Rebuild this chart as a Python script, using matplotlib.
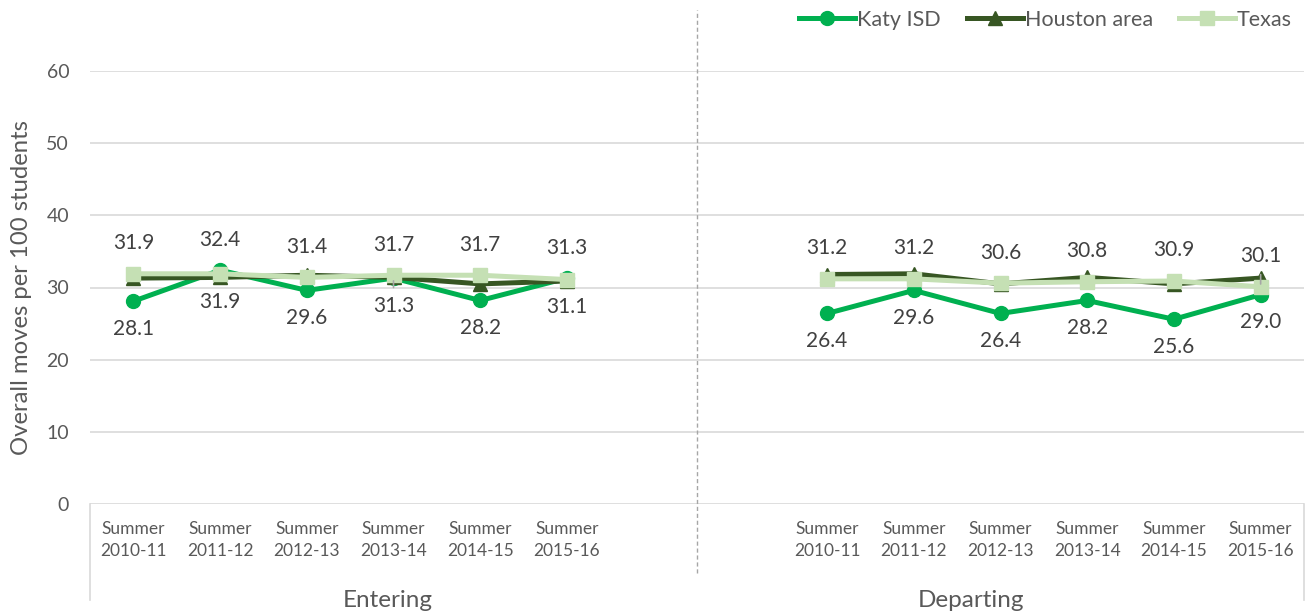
import matplotlib
matplotlib.use("Agg")
import matplotlib.pyplot as plt
from matplotlib.lines import Line2D

plt.rcParams['font.family'] = ['Lato', 'DejaVu Sans']

# data
periods = ["Summer\n2010-11", "Summer\n2011-12", "Summer\n2012-13",
           "Summer\n2013-14", "Summer\n2014-15", "Summer\n2015-16"]
groups = ["Entering", "Departing"]

katy_entering = [28.1, 32.4, 29.6, 31.3, 28.2, 31.3]
houston_entering = [31.3, 31.4, 31.7, 31.4, 30.5, 30.9]
texas_entering = [31.9, 31.9, 31.4, 31.7, 31.7, 31.1]

katy_departing = [26.4, 29.6, 26.4, 28.2, 25.6, 29.0]
houston_departing = [31.8, 31.9, 30.5, 31.4, 30.5, 31.3]
texas_departing = [31.2, 31.2, 30.6, 30.8, 30.9, 30.1]

series = [
    ("Katy ISD", katy_entering, katy_departing, "#00b050", "o", 10),
    ("Houston area", houston_entering, houston_departing, "#375623", "^", 10),
    ("Texas", texas_entering, texas_departing, "#c5e0b4", "s", 10),
]

W, H = 1306, 616
fig = plt.figure(figsize=(W / 100, H / 100), dpi=100)
ax = fig.add_axes([90 / W, 1 - 504 / H, (1304 - 90) / W, (504 - 71) / H])

x_ent = list(range(0, 6))
x_dep = list(range(8, 14))

for name, ent, dep, color, marker, ms in series:
    for xs, ys in ((x_ent, ent), (x_dep, dep)):
        ax.plot(xs, ys, color=color, lw=3.6, marker=marker, ms=ms,
                solid_capstyle="round", solid_joinstyle="round", zorder=3)

# data labels: higher of Katy/Texas goes above, lower goes below
label_color = "#404040"
leader = {(0, 3, "lo"), (1, 5, "hi")}  # labels that have a small leader line
for gi, (xs, k_vals, t_vals) in enumerate(((x_ent, katy_entering, texas_entering),
                                           (x_dep, katy_departing, texas_departing))):
    for i, (x, k, t) in enumerate(zip(xs, k_vals, t_vals)):
        hi, lo = (k, t) if k > t else (t, k)
        for key, v, dy in (("hi", hi, 22), ("lo", lo, -20)):
            props = None
            if (gi, i, key) in leader:
                props = dict(arrowstyle="-", color="#a6a6a6", lw=1.2,
                             shrinkA=4, shrinkB=2)
            ax.annotate(f"{v:.1f}", (x, v), xytext=(0, dy), textcoords="offset points",
                        ha="center", va="center", fontsize=15, color=label_color,
                        arrowprops=props, zorder=4)

ax.set_xlim(-0.5, 13.5)
ax.set_ylim(0, 60)
ax.set_yticks(range(0, 61, 10))
ax.grid(axis="y", color="#d9d9d9", lw=1.2)
ax.set_axisbelow(True)
for s in ax.spines.values():
    s.set_visible(False)
ax.tick_params(axis="y", length=0, pad=15, labelsize=14, labelcolor="#595959")
ax.set_xticks(x_ent + x_dep)
ax.set_xticklabels(periods * 2, fontsize=12.5, color="#595959", linespacing=1.45)
ax.tick_params(axis="x", length=0, pad=12)
ax.set_ylabel("Overall moves per 100 students", fontsize=17.2, color="#595959")
ax.yaxis.set_label_coords(-58 / 1214, 0.5)

# group axis lines
ax.plot([-0.5, -0.5], [0, -0.222], transform=ax.get_xaxis_transform(),
        color="#d9d9d9", lw=1.2, clip_on=False)
ax.plot([13.5, 13.5], [0, -0.222], transform=ax.get_xaxis_transform(),
        color="#d9d9d9", lw=1.2, clip_on=False)
ax.plot([6.5, 6.5], [-0.16, 1.14], transform=ax.get_xaxis_transform(),
        color="#a6a6a6", lw=1, ls=(0, (3, 2)), clip_on=False)
for gx, g in zip((2.93, 9.66), groups):
    ax.text(gx, -0.222, g, transform=ax.get_xaxis_transform(), ha="center",
            va="center", fontsize=17.5, color="#595959")

handles = [Line2D([], [], color=c, lw=3.6, marker=m, ms=ms) for _, _, _, c, m, ms in series]
fig.legend(handles, [s[0] for s in series], loc="center right",
           bbox_to_anchor=(1292 / W, 1 - 20 / H), ncol=3, frameon=False,
           fontsize=15.5, handlelength=2.6, handletextpad=0.1, columnspacing=1.2,
           labelcolor="#595959", borderpad=0, borderaxespad=0)

fig.savefig("out.png", dpi=100)
